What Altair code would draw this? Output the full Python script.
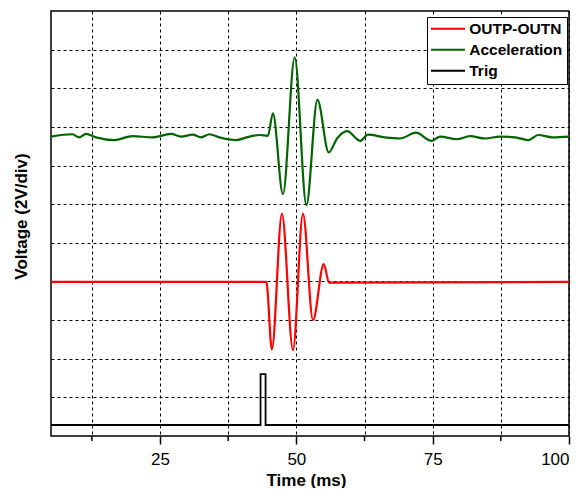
import altair as alt
import pandas as pd

# ---- data (time in ms, voltage in divisions of 2 V) ----
series_names = ["OUTP-OUTN", "Acceleration", "Trig"]
series_colors = ["#ff0000", "#006400", "#000000"]

outp_t = [5.0, 44.49, 45.51, 47.35, 49.38, 51.21, 53.05, 55.02, 56.0, 100.0]
outp_v = [3.99, 3.99, 2.24, 5.75, 2.23, 5.75, 3.00, 4.45, 3.97, 3.99]

acc_t = [5.0, 8.93, 10.17, 11.40, 13.24, 16.60, 19.96, 23.64, 27.02, 28.86,
         30.99, 32.54, 34.06, 35.90, 38.97, 41.42, 43.26, 44.78,
         45.70, 47.54, 49.69, 51.84, 53.86, 55.94, 57.46, 59.30, 61.73,
         63.11, 66.23, 69.0, 71.93, 74.82, 76.35, 79.41, 81.86, 84.61,
         87.37, 90.13, 92.52, 94.36, 96.93, 100.0]
acc_v = [7.75, 7.81, 7.73, 7.82, 7.73, 7.66, 7.76, 7.73, 7.82, 7.75,
         7.80, 7.73, 7.81, 7.73, 7.66, 7.75, 7.79, 7.77,
         8.35, 6.26, 9.80, 5.98, 8.70, 7.34, 7.70, 7.89, 7.64,
         7.80, 7.73, 7.70, 7.85, 7.64, 7.75, 7.68, 7.76, 7.70,
         7.75, 7.73, 7.66, 7.79, 7.73, 7.75]

trig_t = [5.0, 43.43, 43.43, 44.35, 44.35, 100.0]
trig_v = [0.285, 0.285, 1.60, 1.60, 0.285, 0.285]

x_grid = [12.5, 25, 37.5, 50, 62.5, 75, 87.5, 100]
x_minor = [12.5, 37.5, 62.5, 87.5]
y_grid = [1, 2, 3, 4, 5, 6, 7, 8, 9, 10]

W, H = 518, 425
FONT = "Liberation Sans"

wave_df = pd.concat([
    pd.DataFrame({"t": outp_t, "v": outp_v, "s": series_names[0]}),
    pd.DataFrame({"t": acc_t, "v": acc_v, "s": series_names[1]}),
], ignore_index=True)
trig_df = pd.DataFrame({"t": trig_t, "v": trig_v, "s": series_names[2],
                        "i": list(range(len(trig_t)))})
minor_df = pd.DataFrame({"t": x_minor})

x_enc = alt.X(
    "t:Q",
    scale=alt.Scale(domain=[5, 100], nice=False, zero=False),
    axis=alt.Axis(
        values=x_grid, title="Time (ms)",
        labelExpr="datum.value % 25 == 0 ? datum.label : ''",
        grid=True, gridDash=[3, 3], gridColor="#000000", gridOpacity=1, gridWidth=1,
        domain=False, tickSize=8, tickWidth=1.5,
        tickColor={"condition": {"test": "datum.value % 25 != 0", "value": "transparent"},
                   "value": "#000000"},
        labelFont=FONT, labelFontSize=17, labelColor="#000000", labelPadding=7,
        titleFont=FONT, titleFontSize=17, titleFontWeight="bold", titleColor="#000000",
        titleX=255, titleY=49, titleBaseline="alphabetic",
    ),
)
y_enc = alt.Y(
    "v:Q",
    scale=alt.Scale(domain=[0, 11], nice=False),
    axis=alt.Axis(
        values=y_grid, title="Voltage (2V/div)", labels=False, ticks=False, domain=False,
        grid=True, gridDash=[3, 3], gridColor="#000000", gridOpacity=1, gridWidth=1,
        titleFont=FONT, titleFontSize=17, titleFontWeight="bold", titleColor="#000000",
        titleX=-30, titleY=205, titleBaseline="middle",
    ),
)
color_enc = alt.Color(
    "s:N",
    scale=alt.Scale(domain=series_names, range=series_colors),
    legend=alt.Legend(
        title=None, orient="none", legendX=376, legendY=6,
        symbolType="M-3.4,0H3.4", symbolSize=100, symbolStrokeWidth=2,
        symbolOffset=9.25, labelOffset=13.5,
        labelFont=FONT, labelFontSize=15.5, labelFontWeight="bold", labelColor="#000000",
        strokeColor="#000000", fillColor="#ffffff", padding=4, rowPadding=4,
    ),
)

waves = alt.Chart(wave_df).mark_line(interpolate="monotone", strokeWidth=2.2).encode(
    x=x_enc, y=y_enc, color=color_enc)
trig = alt.Chart(trig_df).mark_line(strokeWidth=1.8).encode(
    x=x_enc, y=y_enc, color=color_enc, order="i:Q")
minor = alt.Chart(minor_df).mark_rule(color="#000000", strokeWidth=1.5).encode(
    x=x_enc, y=alt.value(H), y2=alt.value(H + 5))

chart = alt.layer(waves, trig, minor).properties(
    width=W, height=H,
    autosize=alt.AutoSizeParams(type="none"),
    padding={"left": 43, "top": 3, "right": 9, "bottom": 52},
    background="#ffffff",
).configure_view(stroke="#000000", strokeWidth=1.5)

chart.save("out.html", embed_options={"renderer": "svg", "actions": False})
